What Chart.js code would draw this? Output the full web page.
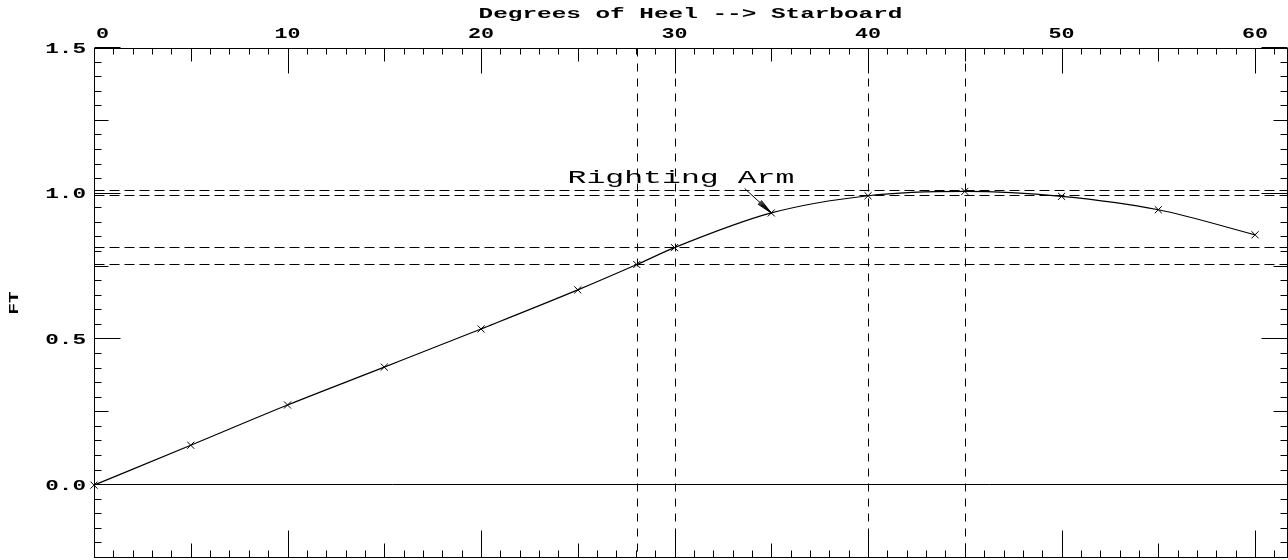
<!DOCTYPE html>
<html><head><meta charset="utf-8">
<script src="https://cdn.jsdelivr.net/npm/chart.js@4.4.1/dist/chart.umd.min.js"></script>
<style>html,body{margin:0;padding:0;background:#fff;overflow:hidden}#wrap{width:1288px;height:560px;position:relative}</style>
</head><body><div id="wrap"><canvas id="c" width="1288" height="560"></canvas></div>
<script>
// ---- data ----
const heelDeg     = [0, 5, 10, 15, 20, 25, 28.05, 30, 35, 40, 45, 50, 55, 60];
const rightingArm = [0, 0.137, 0.275, 0.405, 0.536, 0.670, 0.757, 0.815, 0.934, 0.993, 1.008, 0.991, 0.945, 0.859];
const xTickValues = [0, 10, 20, 30, 40, 50, 60];
const xTickLabels = ['0', '10', '20', '30', '40', '50', '60'];
const yTickValues = [1.5, 1.0, 0.5, 0.0];
const yTickLabels = ['1.5', '1.0', '0.5', '0.0'];
const refHeel = [28.05, 30, 40, 45];
const refArm  = [1.008, 0.993, 0.815, 0.757];
const xTitle = 'Degrees of Heel --> Starboard';
const yTitle = 'FT';
const curveLabel = 'Righting Arm';
const curveLabelAt = [30.33, 1.037];
const arrowFrom = [33.62, 1.018];
const arrowTo   = [35, 0.934];

function crisp(v){ return Math.round(v) + 0.5; }
function textWidth(ctx, text, sx, font){ ctx.save(); ctx.font = font; const w = ctx.measureText(text).width * sx; ctx.restore(); return w; }
function stretchText(ctx, text, x, y, align, sx, font){
  ctx.save();
  ctx.font = font; ctx.textAlign = 'left'; ctx.textBaseline = 'alphabetic';
  const w = ctx.measureText(text).width * sx;
  const x0 = align === 'center' ? x - w / 2 : align === 'right' ? x - w : x;
  ctx.translate(x0, y); ctx.scale(sx, 1);
  ctx.fillText(text, 0, 0);
  ctx.restore();
}

const frame = {
  id: 'frame',
  beforeDatasetsDraw(chart){
    const {ctx, chartArea: a, scales: {x, y}} = chart;
    const L = Math.floor(a.left) + 0.5, R = Math.floor(a.right) + 0.5;
    const T = Math.floor(a.top) + 0.5, B = Math.floor(a.bottom) - 0.5;
    ctx.save();
    ctx.strokeStyle = '#000'; ctx.lineWidth = 1;
    const ln = (x1, y1, x2, y2) => { ctx.beginPath(); ctx.moveTo(x1, y1); ctx.lineTo(x2, y2); ctx.stroke(); };
    const y0 = crisp(y.getPixelForValue(0)) - 1;
    ln(L, y0, R, y0);
    ctx.setLineDash([10, 5]);
    refArm.forEach(v => { const p = crisp(y.getPixelForValue(v)) - 1; ln(L, p, R, p); });
    ctx.setLineDash([8, 7]);
    refHeel.forEach(v => { const p = crisp(x.getPixelForValue(v)); ln(p, T, p, B); });
    ctx.restore();
  },
  afterDatasetsDraw(chart){
    const {ctx, chartArea: a, scales: {x, y}} = chart;
    const L = Math.floor(a.left) + 0.5, R = Math.floor(a.right) + 0.5;
    const T = Math.floor(a.top) + 0.5, B = Math.floor(a.bottom) - 0.5;
    ctx.save();
    ctx.strokeStyle = '#000'; ctx.fillStyle = '#000'; ctx.lineWidth = 1;
    const ln = (x1, y1, x2, y2) => { ctx.beginPath(); ctx.moveTo(x1, y1); ctx.lineTo(x2, y2); ctx.stroke(); };
    // frame
    ctx.strokeRect(L, T, R - L, B - T);
    // x ticks (top hanging down, bottom pointing up)
    for (let d = 0; d <= 61; d++) {
      const p = crisp(x.getPixelForValue(d));
      const top = d % 10 === 0 ? 25 : d % 5 === 0 ? 13 : 6;
      const bot = d % 10 === 0 ? 27 : d % 5 === 0 ? 14 : 7;
      ln(p, T, p, T + top);
      ln(p, B, p, B - bot);
    }
    // y ticks left and right
    for (let k = -5; k <= 30; k++) {
      const p = crisp(y.getPixelForValue(k * 0.05)) - 1;
      const len = k % 10 === 0 ? 26 : k % 5 === 0 ? 14 : 7;
      ln(L, p, L + len, p);
      ln(R, p, R - len, p);
    }
    // tick labels
    const tf = 'bold 14px "Liberation Mono"';
    xTickValues.forEach((v, i) => {
      const px = x.getPixelForValue(v);
      const w = textWidth(ctx, xTickLabels[i], 1.55, tf);
      if (px - w / 2 < a.left) stretchText(ctx, xTickLabels[i], a.left + 2, 38, 'left', 1.55, tf);
      else stretchText(ctx, xTickLabels[i], px, 38, 'center', 1.55, tf);
    });
    yTickValues.forEach((v, i) => stretchText(ctx, yTickLabels[i], 86, y.getPixelForValue(v) + 4.5, 'right', 1.62, tf));
    // titles
    stretchText(ctx, xTitle, (a.left + a.right) / 2, 17.5, 'center', 1.74, 'bold 14px "Liberation Mono"');
    ctx.save();
    ctx.translate(18, (a.top + a.bottom) / 2);
    ctx.rotate(-Math.PI / 2);
    stretchText(ctx, yTitle, 0, 0, 'center', 1.6, 'bold 12px "Liberation Mono"');
    ctx.restore();
    // annotation
    stretchText(ctx, curveLabel, x.getPixelForValue(curveLabelAt[0]), y.getPixelForValue(curveLabelAt[1]), 'center', 1.75, '18px "Liberation Mono"');
    const fx = x.getPixelForValue(arrowFrom[0]), fy = y.getPixelForValue(arrowFrom[1]);
    const tx = x.getPixelForValue(arrowTo[0]), ty = y.getPixelForValue(arrowTo[1]);
    ln(fx, fy, tx, ty);
    const ang = Math.atan2(fy - ty, fx - tx);
    [-0.16, -0.1, -0.05, 0.05, 0.1, 0.16].forEach(da => {
      ln(tx, ty, tx + 16 * Math.cos(ang + da), ty + 16 * Math.sin(ang + da));
    });
    ctx.restore();
  }
};

new Chart(document.getElementById('c').getContext('2d'), {
  type: 'scatter',
  data: {
    datasets: [{
      data: heelDeg.map((h, i) => ({x: h, y: rightingArm[i]})),
      showLine: true,
      borderColor: '#000',
      borderWidth: 1.2,
      cubicInterpolationMode: 'monotone',
      pointStyle: 'crossRot',
      pointRadius: 5,
      pointBorderColor: '#000',
      pointBorderWidth: 1,
      fill: false,
      clip: false
    }]
  },
  options: {
    responsive: false,
    animation: false,
    devicePixelRatio: 1,
    layout: {autoPadding: false, padding: {left: 94, top: 48, right: 1, bottom: 2}},
    plugins: {legend: {display: false}, tooltip: {enabled: false}, title: {display: false}},
    scales: {
      x: {type: 'linear', min: 0, max: 61.65, display: false},
      y: {type: 'linear', min: -0.25, max: 1.5, display: false}
    }
  },
  plugins: [frame]
});
</script>
</body></html>
